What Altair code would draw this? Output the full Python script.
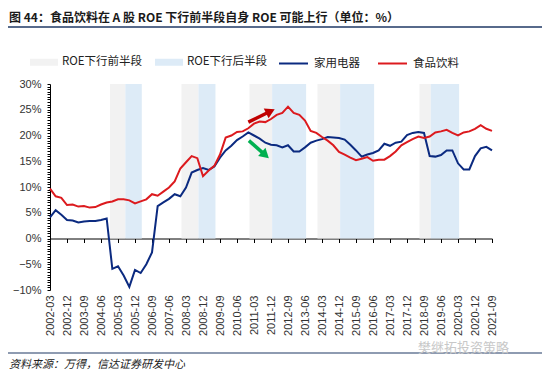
import json
import altair as alt
import pandas as pd

# ---------------- data ----------------
quarters = [f"{y}-{m}" for y in range(2002, 2022) for m in ("03", "06", "09", "12")][:79]

appliances = [4.1, 5.5, 4.6, 3.6, 3.5, 3.1, 3.3, 3.4, 3.4, 3.6,
              3.9, -5.9, -5.4, -7.2, -9.4, -6.1, -6.7, -5.0, -2.7, 6.3,
              7.0, 7.7, 8.6, 8.2, 9.9, 12.8, 13.3, 13.7, 13.3, 14.0,
              15.7, 17.1, 18.0, 19.1, 19.8, 20.6, 20.0, 19.4, 18.6, 18.2,
              18.1, 17.7, 18.1, 16.9, 16.9, 17.7, 18.6, 19.0, 19.3, 19.7,
              19.6, 19.5, 19.2, 18.2, 17.1, 15.9, 16.3, 16.6, 17.1, 18.4,
              18.0, 18.6, 18.8, 20.1, 20.5, 20.7, 20.5, 16.0, 15.9, 16.2,
              17.1, 17.1, 14.6, 13.4, 13.4, 16.0, 17.5, 17.8, 17.1]

food = [9.7, 8.2, 7.9, 6.5, 6.6, 6.2, 6.3, 6.0, 6.1, 6.6,
        7.0, 7.2, 7.6, 7.6, 7.4, 6.8, 7.2, 7.6, 8.6, 8.3,
        9.1, 9.9, 11.1, 13.6, 14.8, 16.0, 15.6, 12.1, 13.2, 14.1,
        16.3, 19.6, 20.0, 20.7, 20.8, 21.4, 22.3, 22.7, 22.6, 23.2,
        24.0, 24.4, 25.6, 24.4, 24.0, 22.9, 20.9, 20.5, 19.7, 19.0,
        18.1, 16.8, 16.3, 15.7, 15.2, 15.5, 15.8, 15.1, 15.3, 15.3,
        16.0, 16.9, 18.1, 18.7, 19.3, 19.8, 19.5, 19.8, 20.6, 20.8,
        21.1, 20.5, 20.0, 20.6, 20.8, 21.3, 22.0, 21.3, 20.9]

series_names = ["家用电器", "食品饮料"]
series_colors = ["#0B2A80", "#DC1A1E"]

band_names = ["ROE下行前半段", "ROE下行后半段"]
band_colors = ["#F2F2F2", "#DDEBF7"]
band_start = [10.6, 13.3, 23.2, 26.2, 35.2, 39.2, 47.2, 51.2, 65.2, 67.2]
band_end = [13.3, 16.2, 26.2, 29.2, 39.2, 45.2, 51.2, 57.2, 67.2, 72.2]
band_kind = band_names * 5
band_top = 30

# arrow annotations (in data units): tail and head centre
arrow_x0 = [35.0, 35.1]
arrow_y0 = [22.6, 19.0]
arrow_x1 = [38.9, 38.0]
arrow_y1 = [24.7, 16.2]
arrow_angle = [64, 132]
arrow_color = ["#C00000", "#00B050"]

title_text = "图 44：食品饮料在 A 股 ROE 下行前半段自身 ROE 可能上行（单位：%）"
source_text = "资料来源：万得，信达证券研发中心"
watermark_text = "樊继拓投资策略"

# ---------------- layout ----------------
W, H = 442, 206
YMIN, YMAX = -10, 30
PAD = {"left": 42, "top": 76, "right": 50, "bottom": 81}
CJK = "Noto Sans CJK SC"
LAT = "Liberation Sans"

xscale = alt.Scale(domain=[0, len(quarters) - 1], nice=False, zero=False)
yscale = alt.Scale(domain=[YMIN, YMAX], nice=False, zero=False)
tick_idx = list(range(0, len(quarters), 3))
y_vals = [YMIN + 0.5 * k for k in range(int((YMAX - YMIN) * 2) + 1)]

lines_df = pd.DataFrame({
    "i": list(range(len(quarters))) * 2,
    "q": quarters * 2,
    "v": appliances + food,
    "series": [series_names[0]] * len(quarters) + [series_names[1]] * len(quarters),
})
bands_df = pd.DataFrame({"start": band_start, "end": band_end, "kind": band_kind})
arrows_df = pd.DataFrame({"x0": arrow_x0, "y0": arrow_y0, "x1": arrow_x1, "y1": arrow_y1,
                          "ang": arrow_angle, "c": arrow_color})
one = pd.DataFrame({"t": [0]})

zero_axis = alt.Axis(orient="bottom", offset=-H * (0 - YMIN) / (YMAX - YMIN), labels=False,
                     title=None, domain=True, domainColor="#000000", domainWidth=1,
                     ticks=True, tickColor="#000000", tickSize=4, values=tick_idx, grid=False)

label_axis = alt.Axis(orient="bottom", values=tick_idx,
                      labelExpr=f"{json.dumps(quarters)}[datum.value]",
                      labelAngle=270, labelFont=LAT, labelFontSize=11, labelColor="#333333",
                      labelPadding=5, labelOverlap=False, labelFlush=False, labelBound=False,
                      domain=False, ticks=False, grid=False, title=None)

y_axis = alt.Axis(orient="left", values=y_vals,
                  labelExpr="datum.value % 5 == 0 ? format(datum.value, 'd') + '%' : ''",
                  tickSize=3, tickColor="#000000", domainColor="#000000", domainWidth=1,
                  labelFont=LAT, labelFontSize=11, labelColor="#333333", labelPadding=6,
                  labelOverlap=False, labelFlush=False, grid=False, title=None)

bands = alt.Chart(bands_df).mark_rect().encode(
    x=alt.X("start:Q", scale=xscale, axis=zero_axis),
    x2="end:Q",
    y=alt.YDatum(0, scale=yscale, axis=None),
    y2=alt.Y2Datum(band_top),
    fill=alt.Fill("kind:N", scale=alt.Scale(domain=band_names, range=band_colors),
                  legend=alt.Legend(orient="none", legendX=-20, legendY=-36, direction="horizontal",
                                    title=None, padding=0,
                                    symbolType="M-1,-0.25L1,-0.25L1,0.25L-1,0.25Z",
                                    symbolSize=784, symbolStrokeWidth=0,
                                    labelFont=CJK, labelFontSize=11.5, labelColor="#222222",
                                    labelOffset=4, columnPadding=12)),
)

lines = alt.Chart(lines_df).mark_line(strokeWidth=2).encode(
    x=alt.X("i:Q", scale=xscale, axis=label_axis),
    y=alt.Y("v:Q", scale=yscale, axis=y_axis),
    stroke=alt.Stroke("series:N", scale=alt.Scale(domain=series_names, range=series_colors),
                      legend=alt.Legend(orient="none", legendX=228, legendY=-36, direction="horizontal",
                                        title=None, padding=0, symbolType="stroke",
                                        symbolSize=841, symbolStrokeWidth=2,
                                        labelFont=CJK, labelFontSize=11.5, labelColor="#222222",
                                        labelOffset=5, columnPadding=14)),
)

arrow_shafts = alt.Chart(arrows_df).mark_rule(strokeWidth=3.5, strokeCap="butt").encode(
    x=alt.X("x0:Q", scale=xscale, axis=None),
    y=alt.Y("y0:Q", scale=yscale, axis=None),
    x2="x1:Q", y2="y1:Q",
    color=alt.Color("c:N", scale=None, legend=None),
)
arrow_heads = alt.Chart(arrows_df).mark_point(shape="triangle-up", size=120, filled=True, opacity=1).encode(
    x=alt.X("x1:Q", scale=xscale, axis=None),
    y=alt.Y("y1:Q", scale=yscale, axis=None),
    angle=alt.Angle("ang:Q", scale=None),
    color=alt.Color("c:N", scale=None, legend=None),
)

title = alt.Chart(pd.DataFrame({"t": [title_text]})).mark_text(
    align="left", baseline="middle", font=CJK, fontSize=12, fontWeight="bold", color="#1a1a1a"
).encode(text="t:N", x=alt.value(-41), y=alt.value(-66))

top_rule = alt.Chart(one).mark_rule(color="#1F3864", strokeWidth=1.6).encode(
    x=alt.value(-PAD["left"]), x2=alt.value(W + PAD["right"]), y=alt.value(-57))

bottom_rule = alt.Chart(one).mark_rule(color="#1F3864", strokeWidth=1.2).encode(
    x=alt.value(-PAD["left"]), x2=alt.value(W + PAD["right"]), y=alt.value(269))

source = alt.Chart(pd.DataFrame({"t": [source_text]})).mark_text(
    align="left", baseline="middle", font=CJK, fontSize=11, fontStyle="italic", color="#222222"
).encode(text="t:N", x=alt.value(-41), y=alt.value(281))

watermark = alt.Chart(pd.DataFrame({"t": [watermark_text]})).mark_text(
    align="left", baseline="middle", font=CJK, fontSize=13, color="#c8c8c8"
).encode(text="t:N", x=alt.value(368), y=alt.value(264))

chart = alt.layer(
    bands, lines, arrow_shafts, arrow_heads, title, top_rule, bottom_rule, source, watermark
).resolve_scale(x="shared", y="shared").resolve_axis(x="independent", y="independent").properties(
    width=W, height=H, padding=PAD, autosize=alt.AutoSizeParams(type="none"), background="white"
).configure_view(strokeWidth=0)

chart.save("out.html", embed_options={"renderer": "svg", "actions": False})
